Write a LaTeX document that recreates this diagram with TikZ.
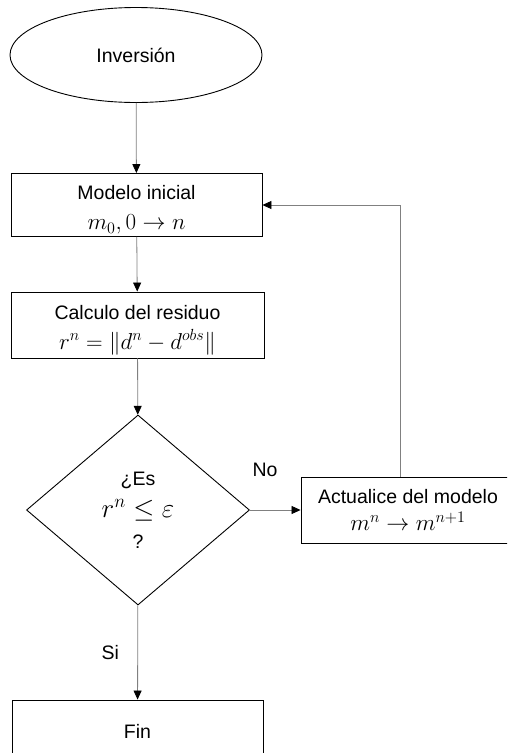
\RequirePackage{fix-cm}
\documentclass[tikz,border=0pt]{standalone}
\usepackage{fontspec}
\setmainfont{Liberation Sans}
\usepackage{amsmath}
\usetikzlibrary{arrows.meta,shapes.geometric}

\begin{document}
\begin{tikzpicture}[x=1pt,y=-1pt,
    every node/.style={font=\fontsize{19.5}{24}\selectfont,align=center},
    proc/.style={draw,line width=0.9pt,minimum height=63pt,inner sep=0pt},
    flow/.style={draw=gray,line width=0.8pt,-{Triangle[black,length=9pt,width=8pt]}}]
  \useasboundingbox (0,0) rectangle (507,753);
  \clip (0,0) rectangle (507,753);
  % nodes
  \node[ellipse,draw,line width=0.9pt,minimum width=252pt,minimum height=95pt] (inv) at (136,55) {Inversi\'on};
  \node[proc,minimum width=251pt] (ini) at (136.5,205)
    {\rule{0pt}{24pt}Modelo inicial\\[6pt]{\fontsize{23}{24}\selectfont$m_0, 0\rightarrow n$}};
  \node[proc,minimum width=253pt,minimum height=66pt] (res) at (137.5,325)
    {\rule{0pt}{24pt}Calculo del residuo\\[6pt]{\fontsize{23}{24}\selectfont$r^n=\lVert d^n-d^{obs}\rVert$}};
  \node[diamond,draw,line width=0.9pt,minimum width=223pt,minimum height=190pt,inner sep=0pt] (test) at (138,510)
    {¿Es\\[8pt]{\fontsize{27}{24}\selectfont$r^n\leq\varepsilon$}\\[7pt]?};
  \node[proc,minimum width=214pt,minimum height=66pt] (upd) at (408,510)
    {Actualice del modelo\\[3pt]{\fontsize{23}{24}\selectfont$m^n\rightarrow m^{n+1}$}};
  \node[proc,minimum width=251pt,minimum height=62pt] (fin) at (137.5,731) {Fin};
  % connectors
  \draw[flow] (inv) -- (ini);
  \draw[flow] (ini) -- (res);
  \draw[flow] (res) -- (test);
  \draw[flow] (test) -- (upd) node[pos=0.3,above=30pt] (no) {No};
  \draw[flow] ([xshift=100pt]upd.north west) |- (ini.east);
  \draw[flow] (test) -- (fin) node[pos=0.5,left=15pt] (si) {Si};
\end{tikzpicture}
\end{document}
